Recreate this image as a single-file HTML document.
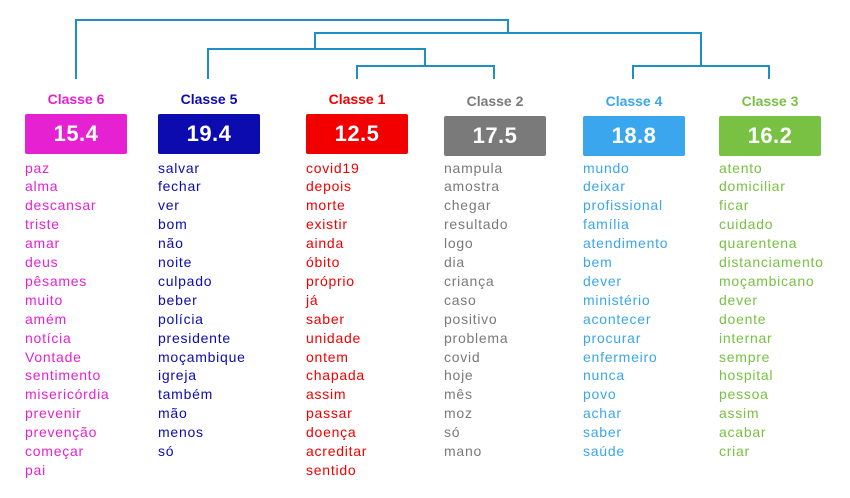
<!DOCTYPE html>
<html><head><meta charset="utf-8"><style>
body{margin:0;width:850px;height:498px;background:#fff;position:relative;overflow:hidden;font-family:"Liberation Sans",sans-serif}
.t{position:absolute;top:91px;width:102px;text-align:center;font-weight:bold;font-size:14px}
.b{position:absolute;width:102px;height:40px;border-radius:2px;color:#fff;font-weight:bold;font-size:22px;text-align:center;line-height:40px;letter-spacing:0.5px}
.w{position:absolute;top:158.5px;font-size:14px;line-height:18.9px;letter-spacing:0.75px;white-space:nowrap}
</style></head><body>
<svg width="850" height="498" style="position:absolute;left:0;top:0" fill="none" stroke="#1d8fc0" stroke-width="2">
<path d="M76 79V20H508V33"/>
<path d="M315 49V33H701V66"/>
<path d="M208 79V49H425V66"/>
<path d="M357 79V66H494V79"/>
<path d="M633 79V66H769V79"/>
</svg>

<div class="t" style="left:25px;color:#e621d2">Classe 6</div>
<div class="b" style="left:25px;top:114px;background:#e621d2">15.4</div>
<div class="w" style="left:25px;color:#e621d2">paz<br>alma<br>descansar<br>triste<br>amar<br>deus<br>pêsames<br>muito<br>amém<br>notícia<br>Vontade<br>sentimento<br>misericórdia<br>prevenir<br>prevenção<br>começar<br>pai</div>

<div class="t" style="left:158px;color:#0b0bb0">Classe 5</div>
<div class="b" style="left:158px;top:114px;background:#0b0bb0">19.4</div>
<div class="w" style="left:158px;color:#0b0bb0">salvar<br>fechar<br>ver<br>bom<br>não<br>noite<br>culpado<br>beber<br>polícia<br>presidente<br>moçambique<br>igreja<br>também<br>mão<br>menos<br>só</div>

<div class="t" style="left:306px;color:#f20000">Classe 1</div>
<div class="b" style="left:306px;top:114px;background:#f20000">12.5</div>
<div class="w" style="left:306px;color:#f20000">covid19<br>depois<br>morte<br>existir<br>ainda<br>óbito<br>próprio<br>já<br>saber<br>unidade<br>ontem<br>chapada<br>assim<br>passar<br>doença<br>acreditar<br>sentido</div>

<div class="t" style="left:444px;top:93px;color:#7a7a7a">Classe 2</div>
<div class="b" style="left:444px;top:116px;background:#7a7a7a">17.5</div>
<div class="w" style="left:444px;color:#7a7a7a">nampula<br>amostra<br>chegar<br>resultado<br>logo<br>dia<br>criança<br>caso<br>positivo<br>problema<br>covid<br>hoje<br>mês<br>moz<br>só<br>mano</div>

<div class="t" style="left:583px;top:93px;color:#3aa6ee">Classe 4</div>
<div class="b" style="left:583px;top:116px;background:#3aa6ee">18.8</div>
<div class="w" style="left:583px;color:#3aa6ee">mundo<br>deixar<br>profissional<br>família<br>atendimento<br>bem<br>dever<br>ministério<br>acontecer<br>procurar<br>enfermeiro<br>nunca<br>povo<br>achar<br>saber<br>saúde</div>

<div class="t" style="left:719px;top:93px;color:#78c142">Classe 3</div>
<div class="b" style="left:719px;top:116px;background:#78c142">16.2</div>
<div class="w" style="left:719px;color:#78c142">atento<br>domiciliar<br>ficar<br>cuidado<br>quarentena<br>distanciamento<br>moçambicano<br>dever<br>doente<br>internar<br>sempre<br>hospital<br>pessoa<br>assim<br>acabar<br>criar</div>
</body></html>
